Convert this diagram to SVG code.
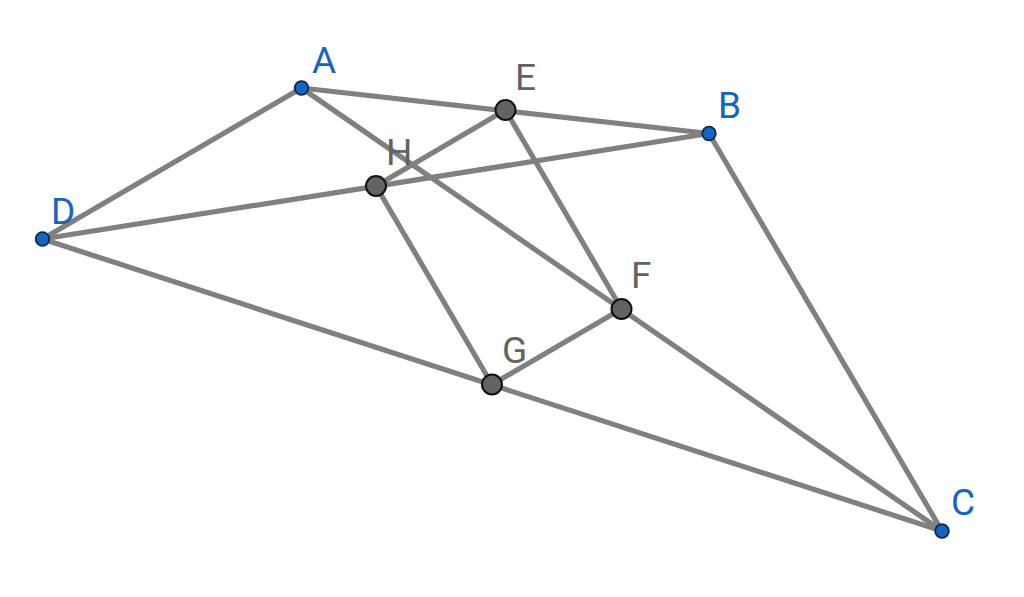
<svg xmlns="http://www.w3.org/2000/svg" width="1024" height="597" viewBox="0 0 1024 597">
<style>
.seg{stroke:#808080;stroke-width:5.2;stroke-linecap:round;fill:none}
.free{fill:#1565c0;stroke:#0d2a4a;stroke-width:1.8}
.dep{fill:#636363;stroke:#111;stroke-width:2}
.lb{font-family:Roboto,"Liberation Sans",sans-serif;font-size:37px}
.lbf{fill:#1565c0}
.lbd{fill:#636363}
</style>
<rect width="1024" height="597" fill="#fff"/>
<g id="connectors">
<line class="seg" x1="301.5" y1="88" x2="709" y2="133.5"/>
<line class="seg" x1="709" y1="133.5" x2="942" y2="531"/>
<line class="seg" x1="42.5" y1="239" x2="942" y2="531"/>
<line class="seg" x1="42.5" y1="239" x2="301.5" y2="88"/>
<line class="seg" x1="42.5" y1="239" x2="709" y2="133.5"/>
<line class="seg" x1="301.5" y1="88" x2="942" y2="531"/>
<line class="seg" x1="505.5" y1="110" x2="621.5" y2="309"/>
<line class="seg" x1="621.5" y1="309" x2="492" y2="384.5"/>
<line class="seg" x1="492" y1="384.5" x2="376" y2="186"/>
<line class="seg" x1="376" y1="186" x2="505.5" y2="110"/>
</g>
<g id="node-A"><circle class="free" cx="301.5" cy="88" r="6.8"/><text class="lb lbf" x="312" y="73">A</text></g>
<g id="node-B"><circle class="free" cx="709" cy="133.5" r="6.8"/><text class="lb lbf" x="718" y="118">B</text></g>
<g id="node-C"><circle class="free" cx="942" cy="531" r="6.8"/><text class="lb lbf" x="951" y="515">C</text></g>
<g id="node-D"><circle class="free" cx="42.5" cy="239" r="6.8"/><text class="lb lbf" x="51" y="224">D</text></g>
<g id="node-E"><circle class="dep" cx="505.5" cy="110" r="10"/><text class="lb lbd" x="515" y="90">E</text></g>
<g id="node-F"><circle class="dep" cx="621.5" cy="309" r="10"/><text class="lb lbd" x="631" y="288">F</text></g>
<g id="node-G"><circle class="dep" cx="492" cy="384.5" r="10"/><text class="lb lbd" x="502" y="363">G</text></g>
<g id="node-H"><circle class="dep" cx="376" cy="186" r="10"/><text class="lb lbd" x="386" y="165">H</text></g>
</svg>
